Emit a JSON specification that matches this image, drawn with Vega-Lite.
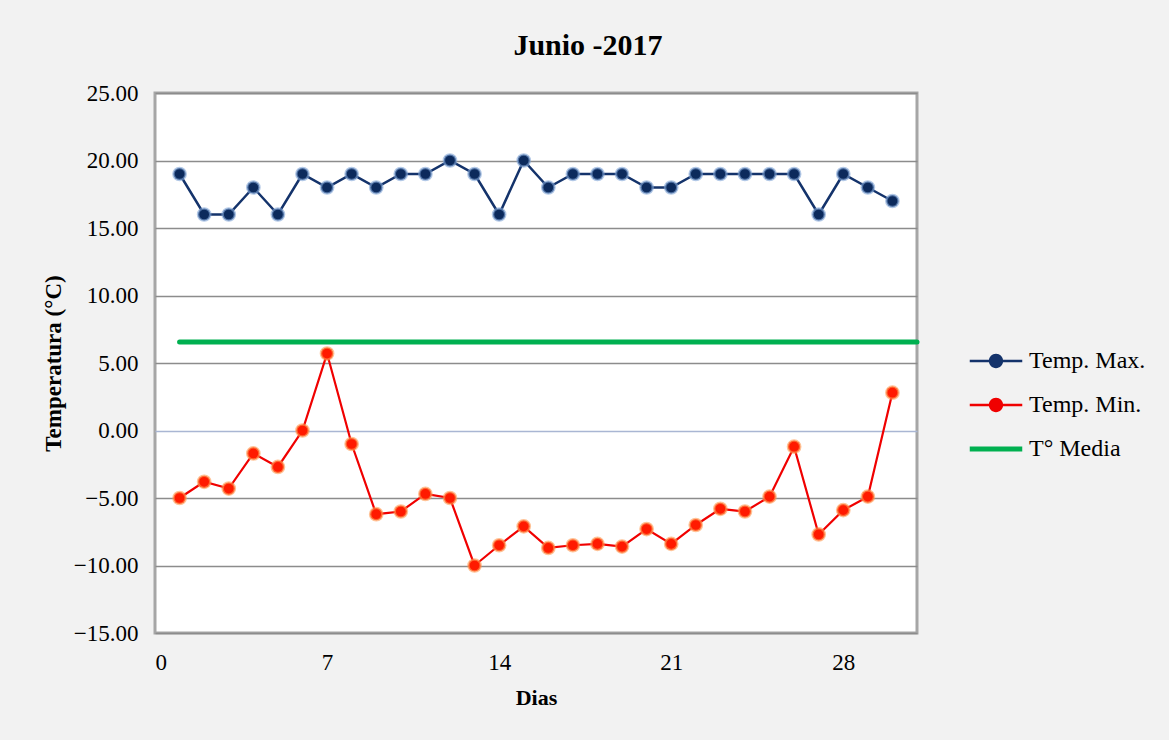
{
  "$schema": "https://vega.github.io/schema/vega-lite/v6.json",
  "autosize": "none",
  "width": 762,
  "height": 540,
  "padding": {"left": 155, "top": 93, "right": 252, "bottom": 107},
  "background": "#f2f2f2",
  "config": {
    "font": "Liberation Serif",
    "view": {"stroke": "#a6a6a6", "strokeWidth": 3, "fill": "#ffffff"}
  },
  "title": {
    "text": "Junio -2017",
    "fontSize": 30,
    "fontWeight": "bold",
    "font": "Liberation Serif",
    "color": "#000000",
    "anchor": "middle",
    "dx": 52,
    "offset": 21
  },
  "data": {
    "values": [
      {"dia": 1, "serie": "Temp. Max.", "temp": 19},
      {"dia": 2, "serie": "Temp. Max.", "temp": 16},
      {"dia": 3, "serie": "Temp. Max.", "temp": 16},
      {"dia": 4, "serie": "Temp. Max.", "temp": 18},
      {"dia": 5, "serie": "Temp. Max.", "temp": 16},
      {"dia": 6, "serie": "Temp. Max.", "temp": 19},
      {"dia": 7, "serie": "Temp. Max.", "temp": 18},
      {"dia": 8, "serie": "Temp. Max.", "temp": 19},
      {"dia": 9, "serie": "Temp. Max.", "temp": 18},
      {"dia": 10, "serie": "Temp. Max.", "temp": 19},
      {"dia": 11, "serie": "Temp. Max.", "temp": 19},
      {"dia": 12, "serie": "Temp. Max.", "temp": 20},
      {"dia": 13, "serie": "Temp. Max.", "temp": 19},
      {"dia": 14, "serie": "Temp. Max.", "temp": 16},
      {"dia": 15, "serie": "Temp. Max.", "temp": 20},
      {"dia": 16, "serie": "Temp. Max.", "temp": 18},
      {"dia": 17, "serie": "Temp. Max.", "temp": 19},
      {"dia": 18, "serie": "Temp. Max.", "temp": 19},
      {"dia": 19, "serie": "Temp. Max.", "temp": 19},
      {"dia": 20, "serie": "Temp. Max.", "temp": 18},
      {"dia": 21, "serie": "Temp. Max.", "temp": 18},
      {"dia": 22, "serie": "Temp. Max.", "temp": 19},
      {"dia": 23, "serie": "Temp. Max.", "temp": 19},
      {"dia": 24, "serie": "Temp. Max.", "temp": 19},
      {"dia": 25, "serie": "Temp. Max.", "temp": 19},
      {"dia": 26, "serie": "Temp. Max.", "temp": 19},
      {"dia": 27, "serie": "Temp. Max.", "temp": 16},
      {"dia": 28, "serie": "Temp. Max.", "temp": 19},
      {"dia": 29, "serie": "Temp. Max.", "temp": 18},
      {"dia": 30, "serie": "Temp. Max.", "temp": 17},
      {"dia": 1, "serie": "Temp. Min.", "temp": -5.0},
      {"dia": 2, "serie": "Temp. Min.", "temp": -3.8},
      {"dia": 3, "serie": "Temp. Min.", "temp": -4.3},
      {"dia": 4, "serie": "Temp. Min.", "temp": -1.7},
      {"dia": 5, "serie": "Temp. Min.", "temp": -2.7},
      {"dia": 6, "serie": "Temp. Min.", "temp": 0.0},
      {"dia": 7, "serie": "Temp. Min.", "temp": 5.7},
      {"dia": 8, "serie": "Temp. Min.", "temp": -1.0},
      {"dia": 9, "serie": "Temp. Min.", "temp": -6.2},
      {"dia": 10, "serie": "Temp. Min.", "temp": -6.0},
      {"dia": 11, "serie": "Temp. Min.", "temp": -4.7},
      {"dia": 12, "serie": "Temp. Min.", "temp": -5.0},
      {"dia": 13, "serie": "Temp. Min.", "temp": -10.0},
      {"dia": 14, "serie": "Temp. Min.", "temp": -8.5},
      {"dia": 15, "serie": "Temp. Min.", "temp": -7.1},
      {"dia": 16, "serie": "Temp. Min.", "temp": -8.7},
      {"dia": 17, "serie": "Temp. Min.", "temp": -8.5},
      {"dia": 18, "serie": "Temp. Min.", "temp": -8.4},
      {"dia": 19, "serie": "Temp. Min.", "temp": -8.6},
      {"dia": 20, "serie": "Temp. Min.", "temp": -7.3},
      {"dia": 21, "serie": "Temp. Min.", "temp": -8.4},
      {"dia": 22, "serie": "Temp. Min.", "temp": -7.0},
      {"dia": 23, "serie": "Temp. Min.", "temp": -5.8},
      {"dia": 24, "serie": "Temp. Min.", "temp": -6.0},
      {"dia": 25, "serie": "Temp. Min.", "temp": -4.9},
      {"dia": 26, "serie": "Temp. Min.", "temp": -1.2},
      {"dia": 27, "serie": "Temp. Min.", "temp": -7.7},
      {"dia": 28, "serie": "Temp. Min.", "temp": -5.9},
      {"dia": 29, "serie": "Temp. Min.", "temp": -4.9},
      {"dia": 30, "serie": "Temp. Min.", "temp": 2.8},
      {"dia": 1, "serie": "T° Media", "temp": 6.55},
      {"dia": 31, "serie": "T° Media", "temp": 6.55}
    ]
  },
  "encoding": {
    "x": {
      "field": "dia",
      "type": "quantitative",
      "scale": {"domain": [0, 31], "nice": false, "zero": false},
      "axis": {
        "title": "Dias",
        "values": [0, 7, 14, 21, 28],
        "labelFontSize": 23,
        "labelColor": "#000000",
        "labelPadding": 18,
        "labelFont": "Liberation Serif",
        "ticks": false,
        "domain": false,
        "grid": false,
        "titleFontSize": 22,
        "titleFontWeight": "bold",
        "titleFont": "Liberation Serif",
        "titleColor": "#000000",
        "titlePadding": 13
      }
    },
    "y": {
      "field": "temp",
      "type": "quantitative",
      "scale": {"domain": [-15, 25], "nice": false, "zero": false},
      "axis": {
        "title": "Temperatura (°C)",
        "values": [-15, -10, -5, 0, 5, 10, 15, 20, 25],
        "format": ".2f",
        "labelFontSize": 23,
        "labelColor": "#000000",
        "labelFont": "Liberation Serif",
        "labelPadding": 17,
        "ticks": false,
        "domain": false,
        "grid": true,
        "gridColor": {"condition": {"test": "datum.value === 0", "value": "#a9b6d3"}, "value": "#8c8c8c"},
        "gridWidth": 1.5,
        "gridOpacity": 1,
        "titleFontSize": 23,
        "titleFontWeight": "bold",
        "titleFont": "Liberation Serif",
        "titleColor": "#000000",
        "titlePadding": 8
      }
    }
  },
  "layer": [
    {
      "transform": [{"filter": "datum.serie === 'T° Media'"}],
      "mark": {"type": "line", "color": "#00b050", "strokeWidth": 5, "strokeCap": "round"},
      "encoding": {}
    },
    {
      "transform": [{"filter": "datum.serie === 'Temp. Max.'"}],
      "mark": {"type": "line", "color": "#14336b", "strokeWidth": 2.5},
      "encoding": {}
    },
    {
      "transform": [{"filter": "datum.serie === 'Temp. Min.'"}],
      "mark": {"type": "line", "color": "#f00000", "strokeWidth": 2.2},
      "encoding": {}
    },
    {
      "transform": [{"filter": "datum.serie === 'Temp. Max.'"}],
      "mark": {"type": "point", "filled": true, "fill": "#0c2a5c", "stroke": "#7fa3d6", "strokeWidth": 2.5, "strokeOpacity": 0.6, "opacity": 1, "size": 150},
      "encoding": {}
    },
    {
      "transform": [{"filter": "datum.serie === 'Temp. Min.'"}],
      "mark": {"type": "point", "filled": true, "fill": "#ff1a00", "stroke": "#ff9a50", "strokeWidth": 2.5, "strokeOpacity": 0.6, "opacity": 1, "size": 150},
      "encoding": {}
    },
    {
      "mark": {"type": "point", "filled": true, "opacity": 0, "size": 10},
      "encoding": {
        "color": {
          "field": "serie",
          "type": "nominal",
          "scale": {"domain": ["Temp. Max.", "Temp. Min.", "T° Media"], "range": ["#14336b", "#f00000", "#00b050"]},
          "legend": {
            "title": null,
            "orient": "none",
            "legendX": 820,
            "legendY": 247,
            "padding": 0,
            "rowPadding": 11,
            "symbolSize": 1764,
            "symbolOpacity": 1,
            "symbolStrokeWidth": 0,
            "labelFontSize": 24,
            "labelFont": "Liberation Serif",
            "labelColor": "#000000",
            "labelOffset": 12
          }
        },
        "shape": {
          "field": "serie",
          "type": "nominal",
          "scale": {
            "domain": ["Temp. Max.", "Temp. Min.", "T° Media"],
            "range": [
              "M-1.25,-0.06H1.25V0.06H-1.25Z M0.34,0A0.34,0.34,0,1,1,-0.34,0A0.34,0.34,0,1,1,0.34,0Z",
              "M-1.25,-0.06H1.25V0.06H-1.25Z M0.34,0A0.34,0.34,0,1,1,-0.34,0A0.34,0.34,0,1,1,0.34,0Z",
              "M-1.25,-0.12H1.25V0.12H-1.25Z"
            ]
          },
          "legend": {
            "title": null,
            "orient": "none",
            "legendX": 820,
            "legendY": 247,
            "padding": 0,
            "rowPadding": 11,
            "symbolSize": 1764,
            "symbolOpacity": 1,
            "symbolStrokeWidth": 0,
            "labelFontSize": 24,
            "labelFont": "Liberation Serif",
            "labelColor": "#000000",
            "labelOffset": 12
          }
        }
      }
    }
  ]
}
